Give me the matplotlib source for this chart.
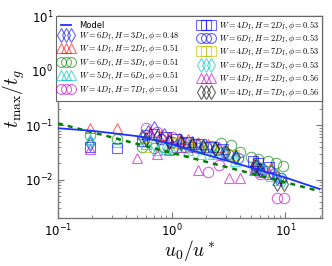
import matplotlib
matplotlib.use("Agg")
import matplotlib.pyplot as plt
from matplotlib.font_manager import FontProperties

# ---- data ----
model_x = [0.1, 0.2, 0.5, 1.0, 2.0, 5.0, 10.0, 20.0]
model_y = [0.088, 0.079, 0.063, 0.045, 0.029, 0.0167, 0.011, 0.0068]
fit_x = [0.1, 20.0]
fit_y = [0.108, 0.0062]

labels = [
    r"$W=6D_I, H=3D_I, \phi=0.48$",
    r"$W=4D_I, H=2D_I, \phi=0.51$",
    r"$W=6D_I, H=3D_I, \phi=0.51$",
    r"$W=5D_I, H=6D_I, \phi=0.51$",
    r"$W=4D_I, H=7D_I, \phi=0.51$",
    r"$W=4D_I, H=2D_I, \phi=0.53$",
    r"$W=6D_I, H=2D_I, \phi=0.53$",
    r"$W=4D_I, H=7D_I, \phi=0.53$",
    r"$W=6D_I, H=3D_I, \phi=0.53$",
    r"$W=4D_I, H=2D_I, \phi=0.56$",
    r"$W=4D_I, H=7D_I, \phi=0.56$",
]

s1_x = [0.19, 0.55, 0.62, 0.70, 0.85, 0.95, 1.2, 1.5, 1.9, 2.4, 2.9, 3.6, 5.3, 5.8, 7.5, 8.5]
s1_y = [0.045, 0.06, 0.075, 0.09, 0.065, 0.05, 0.052, 0.048, 0.042, 0.038, 0.033, 0.026, 0.018, 0.016, 0.014, 0.011]
s2_x = [0.19, 0.33, 0.55, 0.65, 0.8, 0.95, 1.15, 1.4, 1.7, 2.1, 2.6, 5.5, 7.5]
s2_y = [0.09, 0.09, 0.07, 0.075, 0.065, 0.06, 0.058, 0.055, 0.05, 0.045, 0.04, 0.022, 0.017]
s3_x = [0.19, 0.33, 0.55, 0.7, 0.85, 1.0, 1.3, 1.7, 2.2, 2.7, 3.3, 4.0, 5.0, 5.8, 7.0, 8.2, 9.5]
s3_y = [0.065, 0.055, 0.04, 0.038, 0.04, 0.037, 0.04, 0.038, 0.042, 0.048, 0.043, 0.033, 0.026, 0.024, 0.022, 0.02, 0.018]
s4_x = [0.19, 0.33, 0.6, 0.75, 0.9, 1.1, 1.4, 1.8, 2.3, 2.9, 3.6, 5.4, 6.2, 7.5, 8.5]
s4_y = [0.055, 0.05, 0.045, 0.035, 0.036, 0.04, 0.035, 0.03, 0.03, 0.028, 0.022, 0.016, 0.014, 0.012, 0.01]
s5_x = [0.6, 0.75, 1.0, 1.2, 1.5, 2.1, 2.6, 5.5, 6.0, 8.5, 9.8]
s5_y = [0.09, 0.075, 0.06, 0.05, 0.04, 0.014, 0.019, 0.015, 0.013, 0.0047, 0.0047]
s6_x = [0.19, 0.33, 0.55, 0.7, 0.9, 1.1, 1.4, 1.8, 2.3, 2.8, 5.2, 5.8, 7.2]
s6_y = [0.04, 0.038, 0.052, 0.07, 0.06, 0.055, 0.05, 0.045, 0.04, 0.036, 0.022, 0.02, 0.017]
s7_x = [0.6, 0.8, 1.0, 1.3, 1.6, 2.0, 2.5, 3.1, 3.8, 5.5, 6.2, 8.0, 9.2]
s7_y = [0.065, 0.055, 0.05, 0.048, 0.045, 0.04, 0.035, 0.03, 0.025, 0.018, 0.016, 0.013, 0.011]
s8_x = [0.6, 0.85, 1.05, 1.35, 1.75, 2.2, 2.8, 3.5, 5.3, 6.0, 7.8]
s8_y = [0.04, 0.045, 0.048, 0.045, 0.042, 0.038, 0.035, 0.028, 0.018, 0.015, 0.013]
s9_x = [0.19, 0.55, 0.7, 0.9, 1.1, 1.4, 1.8, 2.3, 2.9, 3.6, 5.6, 6.4, 8.2, 9.5]
s9_y = [0.05, 0.06, 0.045, 0.04, 0.042, 0.04, 0.038, 0.032, 0.03, 0.026, 0.017, 0.015, 0.012, 0.01]
s10_x = [0.19, 0.5, 0.75, 0.95, 1.2, 1.7, 3.2, 4.0, 5.3, 7.2]
s10_y = [0.036, 0.025, 0.03, 0.035, 0.04, 0.015, 0.011, 0.011, 0.015, 0.013]
s11_x = [0.6, 0.75, 0.95, 1.2, 1.5, 1.9, 2.4, 3.0, 3.7, 5.5, 6.0, 8.5, 9.7]
s11_y = [0.055, 0.06, 0.05, 0.048, 0.044, 0.04, 0.036, 0.032, 0.026, 0.018, 0.015, 0.0085, 0.0085]

series = [(s1_x, s1_y), (s2_x, s2_y), (s3_x, s3_y), (s4_x, s4_y), (s5_x, s5_y),
          (s6_x, s6_y), (s7_x, s7_y), (s8_x, s8_y), (s9_x, s9_y), (s10_x, s10_y), (s11_x, s11_y)]

# ---- styles ----
colors = [(0, 0, 1), (1, 0, 0), (0, 0.5, 0), (0, 0.75, 0.75), (0.75, 0, 0.75),
          (0, 0, 1), (0, 0, 1), (0.75, 0.75, 0), (0, 0.75, 0.75), (0.75, 0, 0.75), (0, 0, 0)]
markers = ['d', '^', 'o', '^', 'o', 's', 'o', 's', 'd', '^', 'd']

fig = plt.figure(figsize=(3.32, 2.66), dpi=100)
ax = fig.add_axes([58/332, 1 - 218/266, (322-58)/332, (218-16)/266])

model_line, = ax.plot(model_x, model_y, color=(0.1, 0.2, 1.0), lw=1.3, label="Model", zorder=5)
ax.plot(fit_x, fit_y, color=(0, 0.5, 0), lw=1.8, ls=(0, (2, 2)), zorder=4)

handles = []
for (xs, ys), c, m, lab in zip(series, colors, markers, labels):
    h, = ax.plot(xs, ys, ls='none', marker=m, ms=7.5, mfc='none', mec=c,
                 mew=0.8, alpha=0.6, label=lab)
    handles.append(h)

ax.set_xscale('log')
ax.set_yscale('log')
ax.set_xlim(0.1, 21)
ax.set_ylim(0.002, 10)

for sp in ax.spines.values():
    sp.set_color('#777777')
    sp.set_linewidth(1.0)
ax.tick_params(which='both', direction='in', top=True, right=True, colors='#777777',
               labelcolor='black', labelsize=8.5)
ax.tick_params(which='major', length=4)
ax.tick_params(which='minor', length=2)

ax.set_xlabel(r"$u_0/u^*$", fontsize=14, math_fontfamily='cm', labelpad=-1)
ax.set_ylabel(r"$t_{\max}/t_g$", fontsize=14, math_fontfamily='cm')
ax.yaxis.set_label_coords(-0.118, 0.59)

order = [model_line] + handles
leg = ax.legend(order, [h.get_label() for h in order], ncol=2, numpoints=3,
                loc='upper right', bbox_to_anchor=(322/332, 1 - 16/266),
                bbox_transform=fig.transFigure, borderaxespad=0,
                prop=FontProperties(size=6, math_fontfamily='cm'),
                fancybox=False, framealpha=1, edgecolor='#666666',
                handlelength=1.8, handletextpad=0.7, columnspacing=2.3,
                labelspacing=0.05, borderpad=0.3, markerscale=0.95)
leg.get_frame().set_linewidth(0.8)

fig.savefig("out.png", dpi=100)
